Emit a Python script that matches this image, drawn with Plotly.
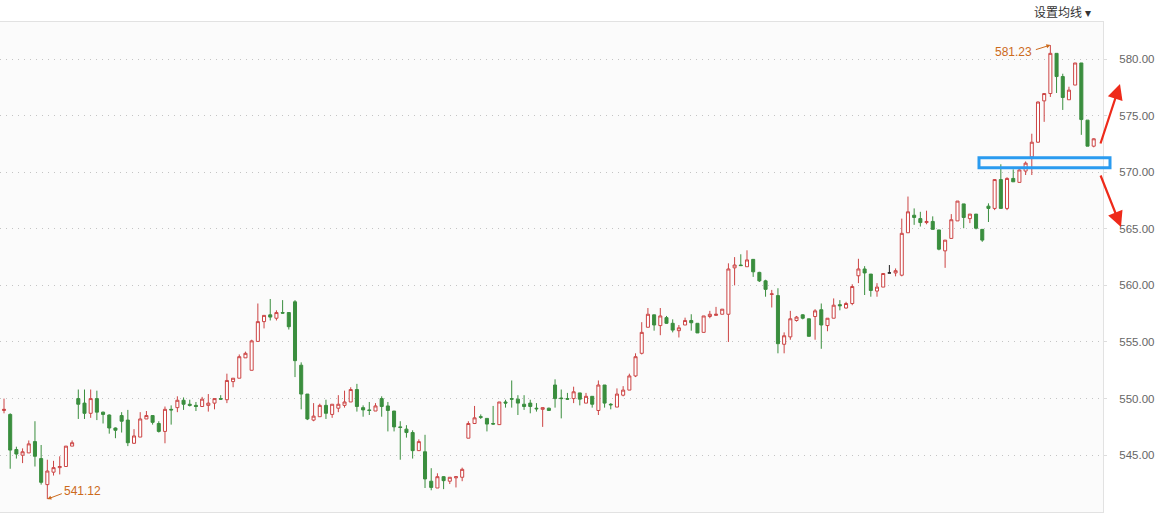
import plotly.graph_objects as go

# ---- data (index-based trading sessions) ----
opens = [548.95, 548.6, 545.5, 545.0, 545.2, 546.2, 544.7, 542.4, 543.5, 543.9,
         544.0, 545.8, 550.0, 549.6, 548.7, 550.0, 548.8, 548.55, 547.4, 548.5,
         548.1, 546.05, 546.6, 548.2, 548.5, 547.8, 547.1, 549.05, 549.2, 549.85,
         549.5, 549.4, 549.3, 549.4, 549.6, 550.0, 549.9, 551.5, 551.8, 553.6,
         552.5, 555.05, 556.8, 557.4, 557.1, 557.6, 557.6, 558.55, 552.95, 550.4,
         548.1, 548.4, 549.4, 548.6, 549.15, 549.4, 549.7, 550.8, 549.2, 549.0,
         548.9, 550.0, 549.35, 548.9, 547.5, 547.3, 547.0, 545.4, 545.3, 542.7,
         542.1, 543.1, 542.7, 543.0, 543.05, 546.5, 547.8, 548.4, 548.25, 547.8,
         547.7, 549.7, 550.0, 549.95, 549.5, 549.6, 549.15, 549.05, 549.15, 551.2,
         550.05, 550.0, 550.0, 550.5, 549.6, 550.2, 548.95, 551.2, 549.5, 549.25,
         550.3, 550.75, 552.0, 554.0, 556.3, 557.4, 556.45, 557.15, 556.65, 556.0,
         556.5, 556.9, 556.65, 555.85, 557.25, 557.35, 557.45, 557.45, 561.55, 561.8,
         561.65, 562.3, 561.15, 560.4, 559.2, 559.1, 554.8, 555.45, 556.9, 557.4,
         557.05, 557.25, 557.85, 556.45, 557.1, 558.3, 558.0, 558.4, 560.85, 561.45,
         561.0, 559.5, 559.85, 561.1, 561.1, 560.9, 564.65, 566.2, 565.9, 565.55,
         565.65, 564.9, 563.05, 564.15, 565.7, 567.2, 565.9, 566.3, 564.95, 567.0,
         566.8, 569.35, 566.8, 569.45, 569.1, 570.1, 571.35, 572.65, 576.3, 576.95,
         580.5, 578.45, 576.4, 577.7, 579.65, 574.6, 572.3]
highs = [550.0, 548.7, 545.75, 545.6, 546.3, 548.0, 545.9, 544.6, 544.5, 544.9,
         545.8, 546.3, 550.8, 550.8, 550.8, 550.7, 548.85, 548.6, 547.45, 548.8,
         549.0, 547.3, 548.8, 548.9, 548.5, 548.0, 549.3, 549.4, 550.2, 550.1,
         549.9, 549.7, 550.15, 550.4, 550.02, 550.3, 552.2, 551.8, 553.9, 554.15,
         555.2, 558.4, 557.35, 558.8, 557.8, 558.7, 557.6, 558.7, 553.2, 550.4,
         549.6, 549.55, 549.9, 549.5, 550.3, 550.7, 551.0, 551.3, 549.4, 549.7,
         549.6, 550.2, 549.7, 548.9, 548.0, 547.65, 547.2, 546.4, 546.8, 543.85,
         543.4, 543.15, 543.05, 543.15, 543.9, 548.0, 549.35, 548.6, 548.25, 549.35,
         549.7, 549.9, 551.6, 550.3, 550.3, 549.9, 549.6, 549.2, 549.2, 551.7,
         550.8, 550.5, 551.05, 550.5, 550.5, 550.2, 551.6, 551.2, 549.6, 550.9,
         551.1, 552.2, 554.0, 556.75, 558.0, 557.4, 558.0, 557.3, 557.0, 556.5,
         557.15, 557.45, 556.65, 557.3, 557.75, 558.1, 557.9, 561.95, 562.5, 562.75,
         563.1, 562.3, 561.2, 560.5, 559.6, 559.75, 555.85, 557.75, 557.3, 557.45,
         557.05, 557.9, 558.4, 557.1, 558.85, 558.7, 558.55, 560.1, 562.35, 561.7,
         561.0, 560.2, 561.05, 561.8, 561.5, 565.9, 567.85, 566.8, 566.5, 566.6,
         566.1, 564.9, 564.0, 566.3, 567.45, 567.2, 566.3, 566.3, 564.95, 567.25,
         569.35, 570.7, 569.55, 570.25, 570.25, 570.95, 573.4, 576.25, 576.95, 581.23,
         580.5, 578.7, 577.55, 579.65, 579.65, 574.6, 573.0]
lows = [548.7, 543.8, 544.7, 544.3, 545.2, 544.0, 542.4, 541.12, 543.2, 543.3,
        544.0, 545.8, 548.2, 548.2, 548.3, 548.1, 547.8, 546.9, 546.5, 547.0,
        545.8, 546.0, 546.6, 548.2, 547.7, 547.0, 546.05, 547.7, 548.8, 549.0,
        549.3, 548.9, 549.3, 548.85, 549.05, 549.9, 549.6, 551.0, 551.8, 553.6,
        552.5, 555.05, 556.2, 556.9, 556.9, 557.5, 556.1, 551.9, 549.05, 548.1,
        548.0, 548.4, 548.2, 548.3, 548.8, 549.2, 549.7, 548.85, 548.4, 548.55,
        548.9, 548.4, 547.1, 547.1, 544.6, 546.55, 544.7, 545.4, 542.1, 541.9,
        542.1, 542.0, 542.45, 542.15, 542.7, 546.5, 547.75, 548.2, 547.1, 547.7,
        547.7, 549.2, 549.2, 548.55, 549.0, 548.7, 548.85, 547.5, 548.95, 549.2,
        548.25, 549.9, 549.6, 549.4, 549.6, 549.2, 548.55, 549.2, 549.05, 549.25,
        550.2, 550.75, 551.9, 553.9, 556.3, 556.0, 555.6, 556.6, 555.85, 555.4,
        556.5, 556.0, 555.8, 555.85, 557.1, 557.35, 557.45, 555.0, 560.0, 561.75,
        561.65, 560.75, 560.3, 559.0, 558.05, 554.0, 554.0, 555.2, 556.8, 557.0,
        555.5, 555.2, 554.4, 555.95, 557.1, 557.8, 557.95, 558.25, 560.2, 559.15,
        559.0, 559.0, 559.85, 561.1, 560.8, 560.8, 564.65, 565.35, 565.2, 565.4,
        564.95, 563.1, 561.55, 564.15, 565.7, 565.05, 565.5, 564.95, 563.85, 565.6,
        566.65, 566.8, 566.65, 569.15, 569.1, 569.75, 569.75, 572.6, 574.45, 576.65,
        577.0, 575.5, 576.4, 577.7, 573.3, 572.3, 572.2]
closes = [549.05, 545.45, 545.1, 545.3, 546.0, 544.9, 542.6, 543.6, 543.9, 544.0,
          545.8, 546.1, 549.5, 548.7, 550.0, 548.8, 548.6, 547.4, 547.2, 548.0,
          546.1, 546.7, 548.2, 548.5, 547.9, 547.1, 549.05, 549.0, 549.85, 549.5,
          549.4, 549.3, 549.95, 549.6, 550.0, 549.95, 551.6, 551.8, 553.7, 554.0,
          555.1, 556.8, 557.35, 557.2, 557.6, 557.55, 556.35, 553.35, 550.4, 548.2,
          548.45, 549.4, 548.7, 549.5, 549.5, 549.7, 550.8, 549.3, 549.0, 548.95,
          549.35, 549.3, 548.95, 547.5, 547.45, 547.0, 545.4, 546.2, 542.9, 542.15,
          543.1, 542.75, 543.05, 543.1, 543.75, 547.8, 548.3, 548.35, 547.75, 547.75,
          549.7, 549.6, 549.95, 549.6, 549.3, 549.3, 549.1, 549.2, 548.95, 550.0,
          550.0, 549.95, 550.6, 549.95, 550.2, 549.5, 551.2, 549.6, 549.45, 550.4,
          550.75, 552.0, 553.7, 555.85, 557.45, 556.5, 557.3, 556.65, 556.05, 556.25,
          556.9, 556.7, 555.8, 557.3, 557.45, 557.45, 557.9, 561.45, 561.8, 561.75,
          562.25, 561.2, 560.4, 559.65, 559.25, 554.85, 555.55, 557.05, 557.2, 557.1,
          555.5, 557.75, 556.5, 557.1, 558.25, 558.2, 558.4, 559.9, 561.45, 561.1,
          559.55, 559.85, 561.05, 561.1, 561.3, 564.6, 566.5, 566.0, 565.55, 565.65,
          564.95, 563.2, 564.0, 565.8, 567.45, 566.0, 566.3, 565.05, 564.0, 566.8,
          569.35, 566.8, 569.45, 569.15, 570.2, 570.8, 572.65, 576.2, 576.95, 580.5,
          578.45, 576.6, 577.25, 579.65, 574.65, 572.3, 572.95]

doji_index = [143]
ytick_vals = [545, 550, 555, 560, 565, 570, 575, 580]
ytick_text = ["545.00", "550.00", "555.00", "560.00", "565.00", "570.00", "575.00", "580.00"]
max_label = "581.23"
min_label = "541.12"
header_text = "设置均线 ▾"

RED = "#cc4444"
GREEN = "#3a8e3e"

idx = list(range(len(opens)))
main = [i for i in idx if i not in doji_index]

fig = go.Figure()
fig.add_trace(go.Candlestick(
    x=main,
    open=[opens[i] for i in main], high=[highs[i] for i in main],
    low=[lows[i] for i in main], close=[closes[i] for i in main],
    increasing=dict(line=dict(color=RED, width=1), fillcolor="#ffffff"),
    decreasing=dict(line=dict(color=GREEN, width=1), fillcolor=GREEN),
    showlegend=False, hoverinfo="skip",
))
fig.add_trace(go.Candlestick(
    x=doji_index,
    open=[opens[i] for i in doji_index], high=[highs[i] for i in doji_index],
    low=[lows[i] for i in doji_index], close=[closes[i] for i in doji_index],
    increasing=dict(line=dict(color="#222222", width=1), fillcolor="#222222"),
    decreasing=dict(line=dict(color="#222222", width=1), fillcolor="#222222"),
    showlegend=False, hoverinfo="skip",
))

fig.update_layout(
    width=1164, height=516,
    margin=dict(l=0, r=61, t=22, b=4),
    paper_bgcolor="#ffffff",
    plot_bgcolor="#fbfbfb",
    showlegend=False,
    xaxis=dict(range=[-0.646, 177.5], showticklabels=False, showgrid=False,
               zeroline=False, rangeslider=dict(visible=False),
               showline=True, linecolor="#e2e2e2", mirror=True, ticks=""),
    yaxis=dict(side="right", range=[539.98, 583.27], tickvals=ytick_vals,
               ticktext=ytick_text, showgrid=True, gridcolor="#c4c4c4",
               griddash="1px,5px", gridwidth=1, zeroline=False, ticks="outside",
               ticklen=3, tickcolor="#dddddd", showline=True, linecolor="#e2e2e2",
               ticklabelstandoff=10,
               tickfont=dict(family="Liberation Sans", size=11.5, color="#666666")),
)

# blue highlight rectangle
fig.add_shape(type="rect", xref="paper", yref="y",
              x0=979 / 1103, x1=1110 / 1103, y0=570.40, y1=571.28,
              line=dict(color="#2a9bf0", width=3), fillcolor="rgba(0,0,0,0)")

# red arrows
fig.add_annotation(xref="paper", yref="paper", x=1120 / 1103, y=(512 - 84) / 490,
                   ax=-20, ay=61, text="", showarrow=True, arrowhead=2,
                   arrowsize=1.4, arrowwidth=2.2, arrowcolor="#ee2a1a")
fig.add_annotation(xref="paper", yref="paper", x=1121 / 1103, y=(512 - 227) / 490,
                   ax=-21, ay=-53, text="", showarrow=True, arrowhead=2,
                   arrowsize=1.4, arrowwidth=2.2, arrowcolor="#ee2a1a")

# max / min labels
ORANGE = "#cc6a1c"
imax = highs.index(max(highs))
imin = lows.index(min(lows))
fig.add_annotation(x=imax, y=highs[imax], ax=-16, ay=5, text="", showarrow=True,
                   arrowhead=2, arrowsize=0.8, arrowwidth=1, arrowcolor=ORANGE)
fig.add_annotation(x=imax - 5.9, y=580.62, text=max_label, showarrow=False,
                   font=dict(family="Liberation Sans", size=12, color=ORANGE))
fig.add_annotation(x=imin, y=lows[imin], ax=16, ay=-6, text="", showarrow=True,
                   arrowhead=2, arrowsize=0.8, arrowwidth=1, arrowcolor=ORANGE)
fig.add_annotation(x=imin + 5.6, y=541.84, text=min_label, showarrow=False,
                   font=dict(family="Liberation Sans", size=12, color=ORANGE))

# header
fig.add_annotation(xref="paper", yref="paper", x=1093 / 1103, y=(512 - 12) / 490,
                   xanchor="right", yanchor="middle", text=header_text, showarrow=False,
                   font=dict(family="Noto Sans CJK SC", size=12, color="#333333"))

fig.write_html("out.html", config={"displayModeBar": False},
               post_script="document.body.style.margin='0px';")
